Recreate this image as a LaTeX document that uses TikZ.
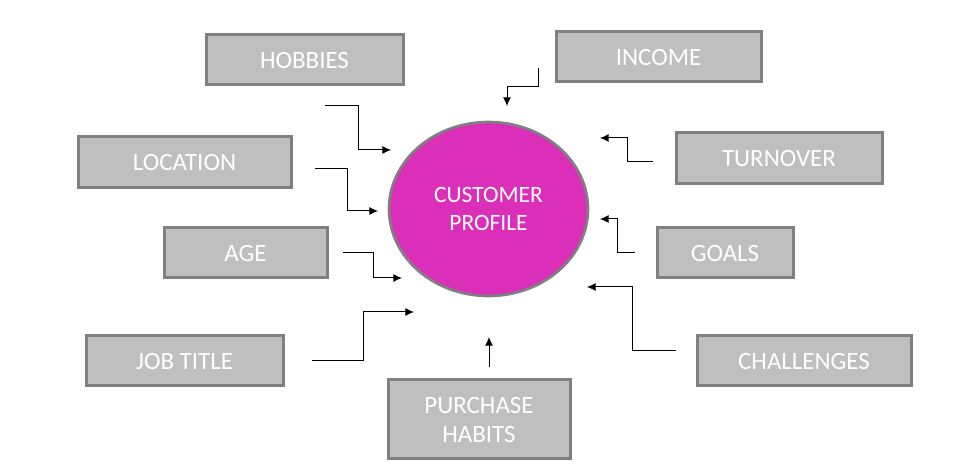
\documentclass[tikz,border=0pt]{standalone}
\usepackage{fontspec}
\setmainfont{Carlito}
\usetikzlibrary{arrows.meta,shapes.geometric}
\definecolor{boxgray}{RGB}{191,191,191}
\definecolor{edgegray}{RGB}{128,128,128}
\definecolor{profilepink}{RGB}{219,47,185}
\tikzset{every picture/.style={line width=0.75pt}}

\begin{document}
\begin{tikzpicture}[x=0.75pt,y=0.75pt,yscale=-1,xscale=1,
	item/.style 2 args={draw=edgegray,fill=boxgray,line width=2.25,text=white,inner sep=0pt,align=center,
		font=\fontsize{18.7}{21.75}\selectfont,minimum width=#1*0.75pt,minimum height=#2*0.75pt},
	feed/.style={-{Latex[length=6.5pt,width=6pt]}}]
	%uncomment if require: \path (0,466); %set diagram left start at 0, and has height of 466
	\useasboundingbox (0,0) rectangle (957,466);
	
	%Shape: Ellipse
	\node [ellipse,draw=edgegray,fill=profilepink,line width=2,text=white,align=center,
		font=\fontsize{17.6}{21}\selectfont,minimum width=199*0.75pt,minimum height=174*0.75pt] (profile) at (488.5,209) {CUSTOMER\\PROFILE};
	
	%Shape: Rectangle
	\node [item={197}{50}] (hobbies) at (304.5,60) {HOBBIES};
	%Shape: Rectangle
	\node [item={205}{50}] (income) at (658.5,57) {INCOME};
	%Shape: Rectangle
	\node [item={213}{51}] (location) at (184.5,162.5) {LOCATION};
	%Shape: Rectangle
	\node [item={206}{51}] (turnover) at (779,158.5) {TURNOVER};
	%Shape: Rectangle
	\node [item={163}{50}] (age) at (245.5,253) {AGE};
	%Shape: Rectangle
	\node [item={136}{50}] (goals) at (725,253) {GOALS};
	%Shape: Rectangle
	\node [item={197}{50}] (jobtitle) at (184.5,361) {JOB TITLE};
	%Shape: Rectangle
	\node [item={214}{50}] (challenges) at (804,361) {CHALLENGES};
	%Shape: Rectangle
	\node [item={182}{79}] (purchase) at (479,419.5) {PURCHASE\\HABITS};
	
	% connector ends
	\coordinate (hobbiesOut) at (325,106);
	\coordinate (hobbiesIn) at (391,150);
	\coordinate (incomeOut) at (538,68);
	\coordinate (incomeIn) at (507,106);
	\coordinate (locationOut) at (315,169);
	\coordinate (locationIn) at (378,211);
	\coordinate (turnoverOut) at (653,162);
	\coordinate (turnoverIn) at (600,138);
	\coordinate (ageOut) at (343,253);
	\coordinate (ageIn) at (402,278);
	\coordinate (goalsOut) at (635,253);
	\coordinate (goalsIn) at (600,219);
	\coordinate (jobtitleOut) at (312,361);
	\coordinate (jobtitleIn) at (414,312);
	\coordinate (challengesOut) at (676,351);
	\coordinate (challengesIn) at (587,287);
	\coordinate (purchaseOut) at (489,367);
	\coordinate (purchaseIn) at (489,337);
	
	%Straight Lines
	\draw [feed] (hobbiesOut) -- ++(33,0) |- (hobbiesIn) ;
	%Straight Lines
	\draw [feed] (incomeOut) -- ++(0,19) -| (incomeIn) ;
	%Straight Lines
	\draw [feed] (locationOut) -- ++(32,0) |- (locationIn) ;
	%Straight Lines
	\draw [feed] (turnoverOut) -- ++(-26,0) |- (turnoverIn) ;
	%Straight Lines
	\draw [feed] (ageOut) -- ++(30,0) |- (ageIn) ;
	%Straight Lines
	\draw [feed] (goalsOut) -- ++(-18,0) |- (goalsIn) ;
	%Straight Lines
	\draw [feed] (jobtitleOut) -- ++(51,0) |- (jobtitleIn) ;
	%Straight Lines
	\draw [feed] (challengesOut) -- ++(-44,0) |- (challengesIn) ;
	%Straight Lines
	\draw [feed] (purchaseOut) -- (purchaseIn) ;
	
\end{tikzpicture}
\end{document}
